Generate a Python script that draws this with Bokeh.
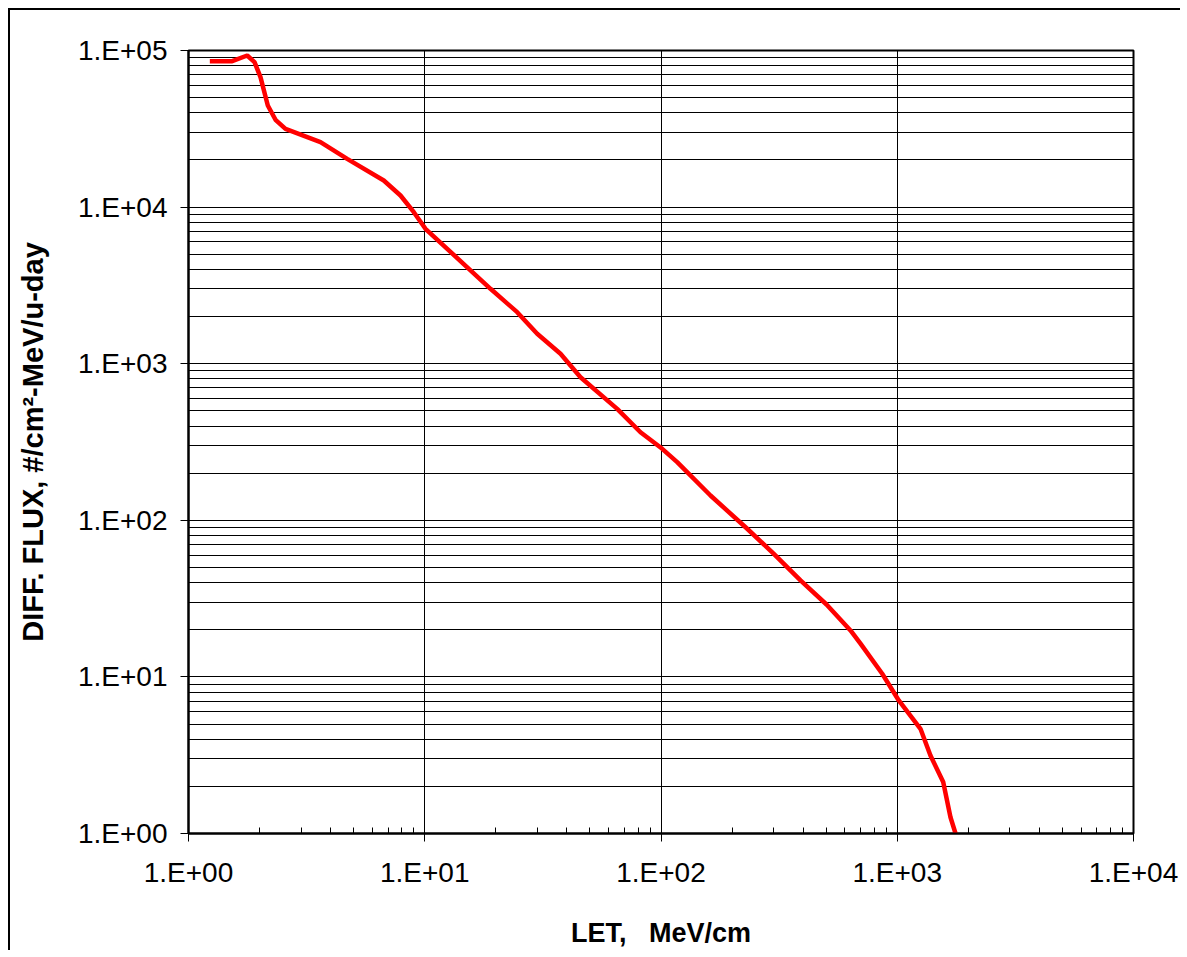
from bokeh.plotting import figure
from bokeh.models import FixedTicker, CustomJSTickFormatter, Range1d
from bokeh.embed import file_html
from bokeh.resources import INLINE

# LET (MeV/cm) vs differential flux (#/cm2-MeV/u-day)
let_values = [1.231, 1.531, 1.772, 1.903, 2.017, 2.166, 2.335, 2.574, 3.620, 4.696,
              6.708, 7.896, 8.990, 10.07, 18.98, 24.62, 29.92, 37.55, 45.63, 65.24,
              81.88, 101.2, 117.1, 162.0, 231.7, 300.3, 389.5, 501.9, 634.0, 699.0,
              863.8, 1015.0, 1254.0, 1382.0, 1565.0, 1680.0, 1765.0]
flux_values = [85500, 85500, 92900, 84200, 67600, 44560, 36100, 31600, 25970, 20340,
               14790, 11860, 9277, 7268, 3009, 2133, 1552, 1157, 820, 515,
               365, 286, 235, 144, 88.3, 61.1, 41.3, 29.0, 19.8, 16.3,
               10.47, 7.07, 4.66, 3.15, 2.13, 1.27, 1.0]

x_ticks = [1, 10, 100, 1000, 10000]
x_tick_labels = ["1.E+00", "1.E+01", "1.E+02", "1.E+03", "1.E+04"]
y_ticks = [1, 10, 100, 1000, 10000, 100000]
y_tick_labels = ["1.E+00", "1.E+01", "1.E+02", "1.E+03", "1.E+04", "1.E+05"]

x_label = "LET,\u00a0\u00a0\u00a0MeV/cm"
y_label = "DIFF. FLUX, #/cm\u00b2-MeV/u-day"

FONT = "Liberation Sans"

p = figure(width=1180, height=950, x_axis_type="log", y_axis_type="log",
           x_range=Range1d(1, 1e4), y_range=Range1d(1, 1e5),
           output_backend="svg", toolbar_location=None,
           min_border_left=188, min_border_top=50, min_border_right=47, min_border_bottom=117)

p.border_fill_color = None
p.background_fill_color = "white"
p.outline_line_color = "black"
p.outline_line_width = 2
p.styles = {"box-shadow": "inset 8px 8px 0 0 #fff, inset 10px 10px 0 0 #000"}

x_minor = [m * 10 ** e for e in range(4) for m in range(2, 10)]
y_minor = [m * 10 ** e for e in range(5) for m in range(2, 10)]
xt = FixedTicker(ticks=x_ticks, minor_ticks=x_minor)
yt = FixedTicker(ticks=y_ticks, minor_ticks=y_minor)

code = """
let best = -1, bd = 1e9;
for (let i = 0; i < tvals.length; i++) {
  const d = Math.abs(Math.log10(tvals[i]) - Math.log10(tick));
  if (d < bd) { bd = d; best = i; }
}
return bd < 1e-6 ? tlabels[best] : "";
"""
p.xaxis.ticker = xt
p.yaxis.ticker = yt
p.xgrid.ticker = xt
p.ygrid.ticker = yt
p.xaxis.formatter = CustomJSTickFormatter(args=dict(tvals=x_ticks, tlabels=x_tick_labels), code=code)
p.yaxis.formatter = CustomJSTickFormatter(args=dict(tvals=y_ticks, tlabels=y_tick_labels), code=code)

for ax in (p.xaxis, p.yaxis):
    ax.axis_line_color = "black"
    ax.axis_line_width = 2
    ax.major_tick_line_color = "black"
    ax.minor_tick_line_color = "black"
    ax.major_tick_out = 8
    ax.major_tick_in = 0
    ax.minor_tick_out = 0
    ax.minor_tick_in = 6
    ax.major_label_text_font = FONT
    ax.major_label_text_font_size = "28px"
    ax.major_label_text_color = "black"
    ax.axis_label_text_font = FONT
    ax.axis_label_text_font_style = "bold"
    ax.axis_label_text_color = "black"

p.xaxis.axis_label_text_font_size = "27px"
p.yaxis.axis_label_text_font_size = "29px"
p.xaxis.major_label_standoff = 15
p.yaxis.major_label_standoff = 13
p.xaxis.axis_label_standoff = 27
p.yaxis.axis_label_standoff = 26
p.xaxis.axis_label = x_label
p.yaxis.axis_label = y_label

p.xgrid.grid_line_color = "black"
p.xgrid.grid_line_width = 1
p.xgrid.minor_grid_line_color = None
p.ygrid.grid_line_color = "black"
p.ygrid.grid_line_width = 1
p.ygrid.minor_grid_line_color = "black"
p.ygrid.minor_grid_line_width = 1

p.line(let_values, flux_values, line_color="#ff0000", line_width=4.5)

open("out.html", "w").write(file_html(p, INLINE))
